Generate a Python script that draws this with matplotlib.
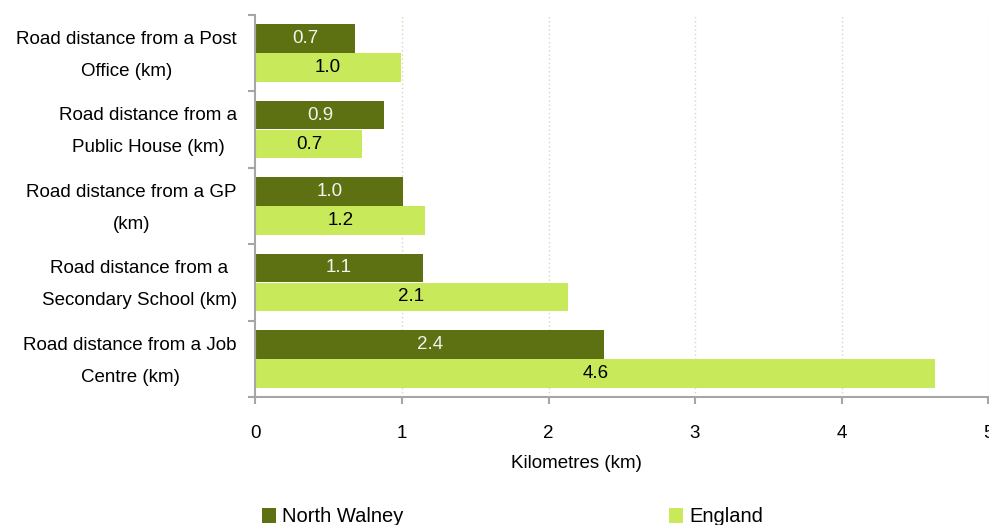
import numpy as np
import matplotlib
matplotlib.use("Agg")
import matplotlib.pyplot as plt
from matplotlib.ticker import FixedLocator

# dados
categorias = ["Road distance from a Post\nOffice (km)",
              "Road distance from a\nPublic House (km)",
              "Road distance from a GP\n(km)",
              "Road distance from a\nSecondary School (km)",
              "Road distance from a Job\nCentre (km)"]
north_walney = [0.68, 0.88, 1.01, 1.14, 2.38]
england = [0.99, 0.73, 1.16, 2.13, 4.64]
series = ["North Walney", "England"]
xticks = [0, 1, 2, 3, 4, 5]

plt.rcParams['font.family'] = ['Liberation Sans', 'DejaVu Sans']

cor_escura = '#5e7112'
cor_clara = '#c7e95a'
cinza = '#a6a6a6'

fig = plt.figure(figsize=(9.89, 5.25), dpi=100)
ax = fig.add_axes([255.5/989, 1-397/525, (988-255.5)/989, (397-15)/525])

y = np.arange(len(categorias))
h = 0.375
b1 = ax.barh(y - 0.19, north_walney, height=h, color=cor_escura, label=series[0])
b2 = ax.barh(y + 0.19, england, height=h, color=cor_clara, label=series[1])

ax.bar_label(b1, labels=[f'{v:.1f}' for v in north_walney], label_type='center',
             color='#f4f4ee', fontsize=13.5)
ax.bar_label(b2, labels=[f'{v:.1f}' for v in england], label_type='center',
             color='black', fontsize=13.5)

ax.set_xlim(0, 5)
ax.set_ylim(len(categorias) - 0.5, -0.5)
ax.set_xticks(xticks)
ax.set_xticklabels([str(t) for t in xticks], fontsize=13.5)
ax.tick_params(axis='x', length=5, width=1.5, color=cinza, pad=15.5)

# rótulos das categorias (duas linhas, centradas, alinhadas à direita)
ax.set_yticks(y)
ax.set_yticklabels([])
ax.tick_params(axis='y', which='major', length=0)
ax.yaxis.set_minor_locator(FixedLocator(np.arange(-0.5, len(categorias), 1)))
ax.tick_params(axis='y', which='minor', length=5, width=1.5, color=cinza)
for yi, cat in zip(y, categorias):
    ax.text(-18.5/732.5, yi + 0.03, cat, transform=ax.get_yaxis_transform(),
            ha='right', va='center', multialignment='center',
            linespacing=2.15, fontsize=13.5)

for xv in xticks[1:]:
    ax.axvline(xv, color='#d9d5bd', lw=1, ls=(0, (1, 2)), zorder=0)

for s in ['top', 'right']:
    ax.spines[s].set_visible(False)
for s in ['left', 'bottom']:
    ax.spines[s].set_color(cinza)
    ax.spines[s].set_linewidth(1.5)

fig.text(576/989, 1-463/525, 'Kilometres (km)', ha='center', va='center', fontsize=13.5)

fig.legend(handles=[b1, b2], labels=series, loc='center left',
           bbox_to_anchor=(262/989, 1-517/525), ncol=2, frameon=False,
           fontsize=14.5, handlelength=0.7, handleheight=0.7, handletextpad=0.3,
           columnspacing=13.2, borderpad=0, borderaxespad=0)

fig.savefig('out.png', dpi=100)
